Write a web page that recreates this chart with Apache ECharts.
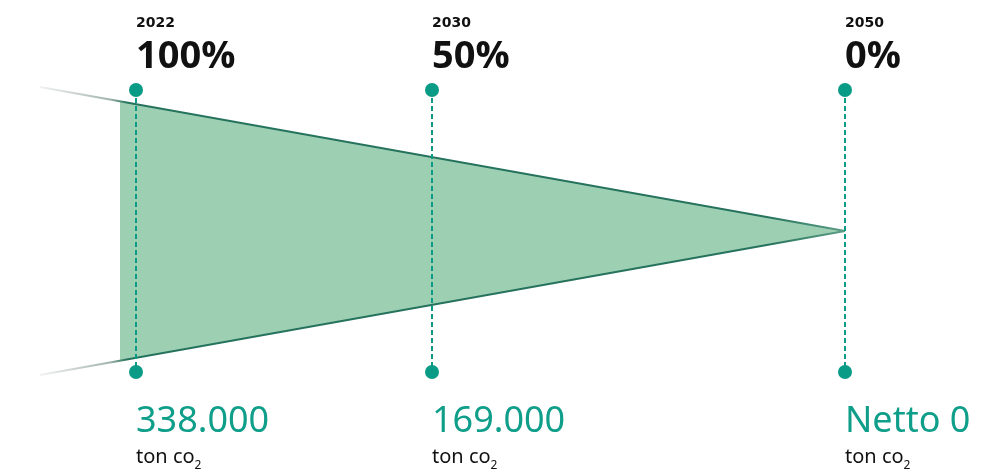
<!DOCTYPE html>
<html><head><meta charset="utf-8">
<script src="https://cdn.jsdelivr.net/npm/echarts@6/dist/echarts.min.js"></script>
<style>html,body{margin:0;padding:0;background:#fff}#c{width:989px;height:469px}</style>
</head><body><div id="c"></div>
<script>
// ---- data ----
const years = ['2022', '2030', '2050'];
const shares = ['100%', '50%', '0%'];
const emissions = ['338.000', '169.000', 'Netto 0'];
const unitText = 'ton co';
const unitSub = '2';
// timeline positions of the milestones (chart units)
const timelineX = [136, 432, 845];
const markerTop = 90, markerBottom = 372;
// wedge edges (chart units)
const upperEdge = [[40, 87], [845, 231]];
const lowerEdge = [[40, 375], [845, 231]];
const wedgeStartX = 120;

const TEAL = '#0a9b86';
const edgeY = (edge, x) => edge[0][1] + (edge[1][1] - edge[0][1]) * (x - edge[0][0]) / (edge[1][0] - edge[0][0]);
const wedge = [[wedgeStartX, edgeY(upperEdge, wedgeStartX)], upperEdge[1], [wedgeStartX, edgeY(lowerEdge, wedgeStartX)]];

const chart = echarts.init(document.getElementById('c'));
const edgeColor = () => new echarts.graphic.LinearGradient(0, 0, 1, 0, [
  { offset: 0, color: 'rgba(175,185,181,0.15)' },
  { offset: 0.09, color: '#9fb3ab' },
  { offset: 0.11, color: '#25725d' },
  { offset: 0.9, color: '#25725d' },
  { offset: 1, color: '#5f9f88' }
]);

chart.setOption({
  animation: false,
  grid: { left: 0, right: 0, top: 0, bottom: 0 },
  xAxis: { type: 'value', min: 0, max: 989, show: false },
  yAxis: { type: 'value', min: 0, max: 469, inverse: true, show: false },
  series: [
    {
      type: 'custom', silent: true, z: 1,
      data: [[wedgeStartX, 0]],
      renderItem: (p, api) => ({
        type: 'polygon',
        shape: { points: wedge.map(pt => api.coord(pt)) },
        style: { fill: '#9dd0b2' }
      })
    },
    {
      type: 'line', z: 2, silent: true, symbol: 'none', data: upperEdge,
      lineStyle: { width: 1.8, color: edgeColor() }
    },
    {
      type: 'line', z: 2, silent: true, symbol: 'none', data: lowerEdge,
      lineStyle: { width: 1.8, color: edgeColor() }
    },
    {
      type: 'custom', z: 3, silent: true,
      data: timelineX.map(x => [x, markerTop, markerBottom]),
      encode: { x: 0, y: [1, 2] },
      renderItem: (p, api) => {
        const a = api.coord([api.value(0), api.value(1)]);
        const b = api.coord([api.value(0), api.value(2)]);
        return { type: 'line', shape: { x1: a[0], y1: a[1], x2: b[0], y2: b[1] },
          style: { stroke: TEAL, lineWidth: 2, lineDash: [5, 3] } };
      }
    },
    {
      type: 'scatter', z: 4, silent: true, symbolSize: 14,
      itemStyle: { color: TEAL, opacity: 1 },
      data: timelineX.map(x => [x, markerTop]),
      label: {
        show: true, position: 'top', align: 'left', verticalAlign: 'bottom', distance: 6,
        formatter: p => `{y|${years[p.dataIndex]}}\n{p|${shares[p.dataIndex]}}`,
        rich: {
          y: { fontFamily: 'DejaVu Sans', fontWeight: 'bold', fontSize: 14, lineHeight: 27, color: '#111' },
          p: { fontFamily: 'Open Sans', fontWeight: 'bold', fontSize: 38, lineHeight: 40, color: '#111' }
        }
      }
    },
    {
      type: 'scatter', z: 4, silent: true, symbolSize: 14,
      itemStyle: { color: TEAL, opacity: 1 },
      data: timelineX.map(x => [x, markerBottom]),
      label: {
        show: true, position: 'bottom', align: 'left', verticalAlign: 'top', distance: 23,
        formatter: p => `{n|${emissions[p.dataIndex]}}\n{u|${unitText}}{s|${unitSub}}`,
        rich: {
          n: { fontFamily: 'Noto Sans', fontSize: 36, lineHeight: 40, color: '#0f9e89' },
          u: { fontFamily: 'Noto Sans', fontSize: 20, lineHeight: 30, color: '#111' },
          s: { fontFamily: 'Noto Sans', fontSize: 12, lineHeight: 13, verticalAlign: 'bottom', color: '#111' }
        }
      }
    }
  ]
});
</script></body></html>
